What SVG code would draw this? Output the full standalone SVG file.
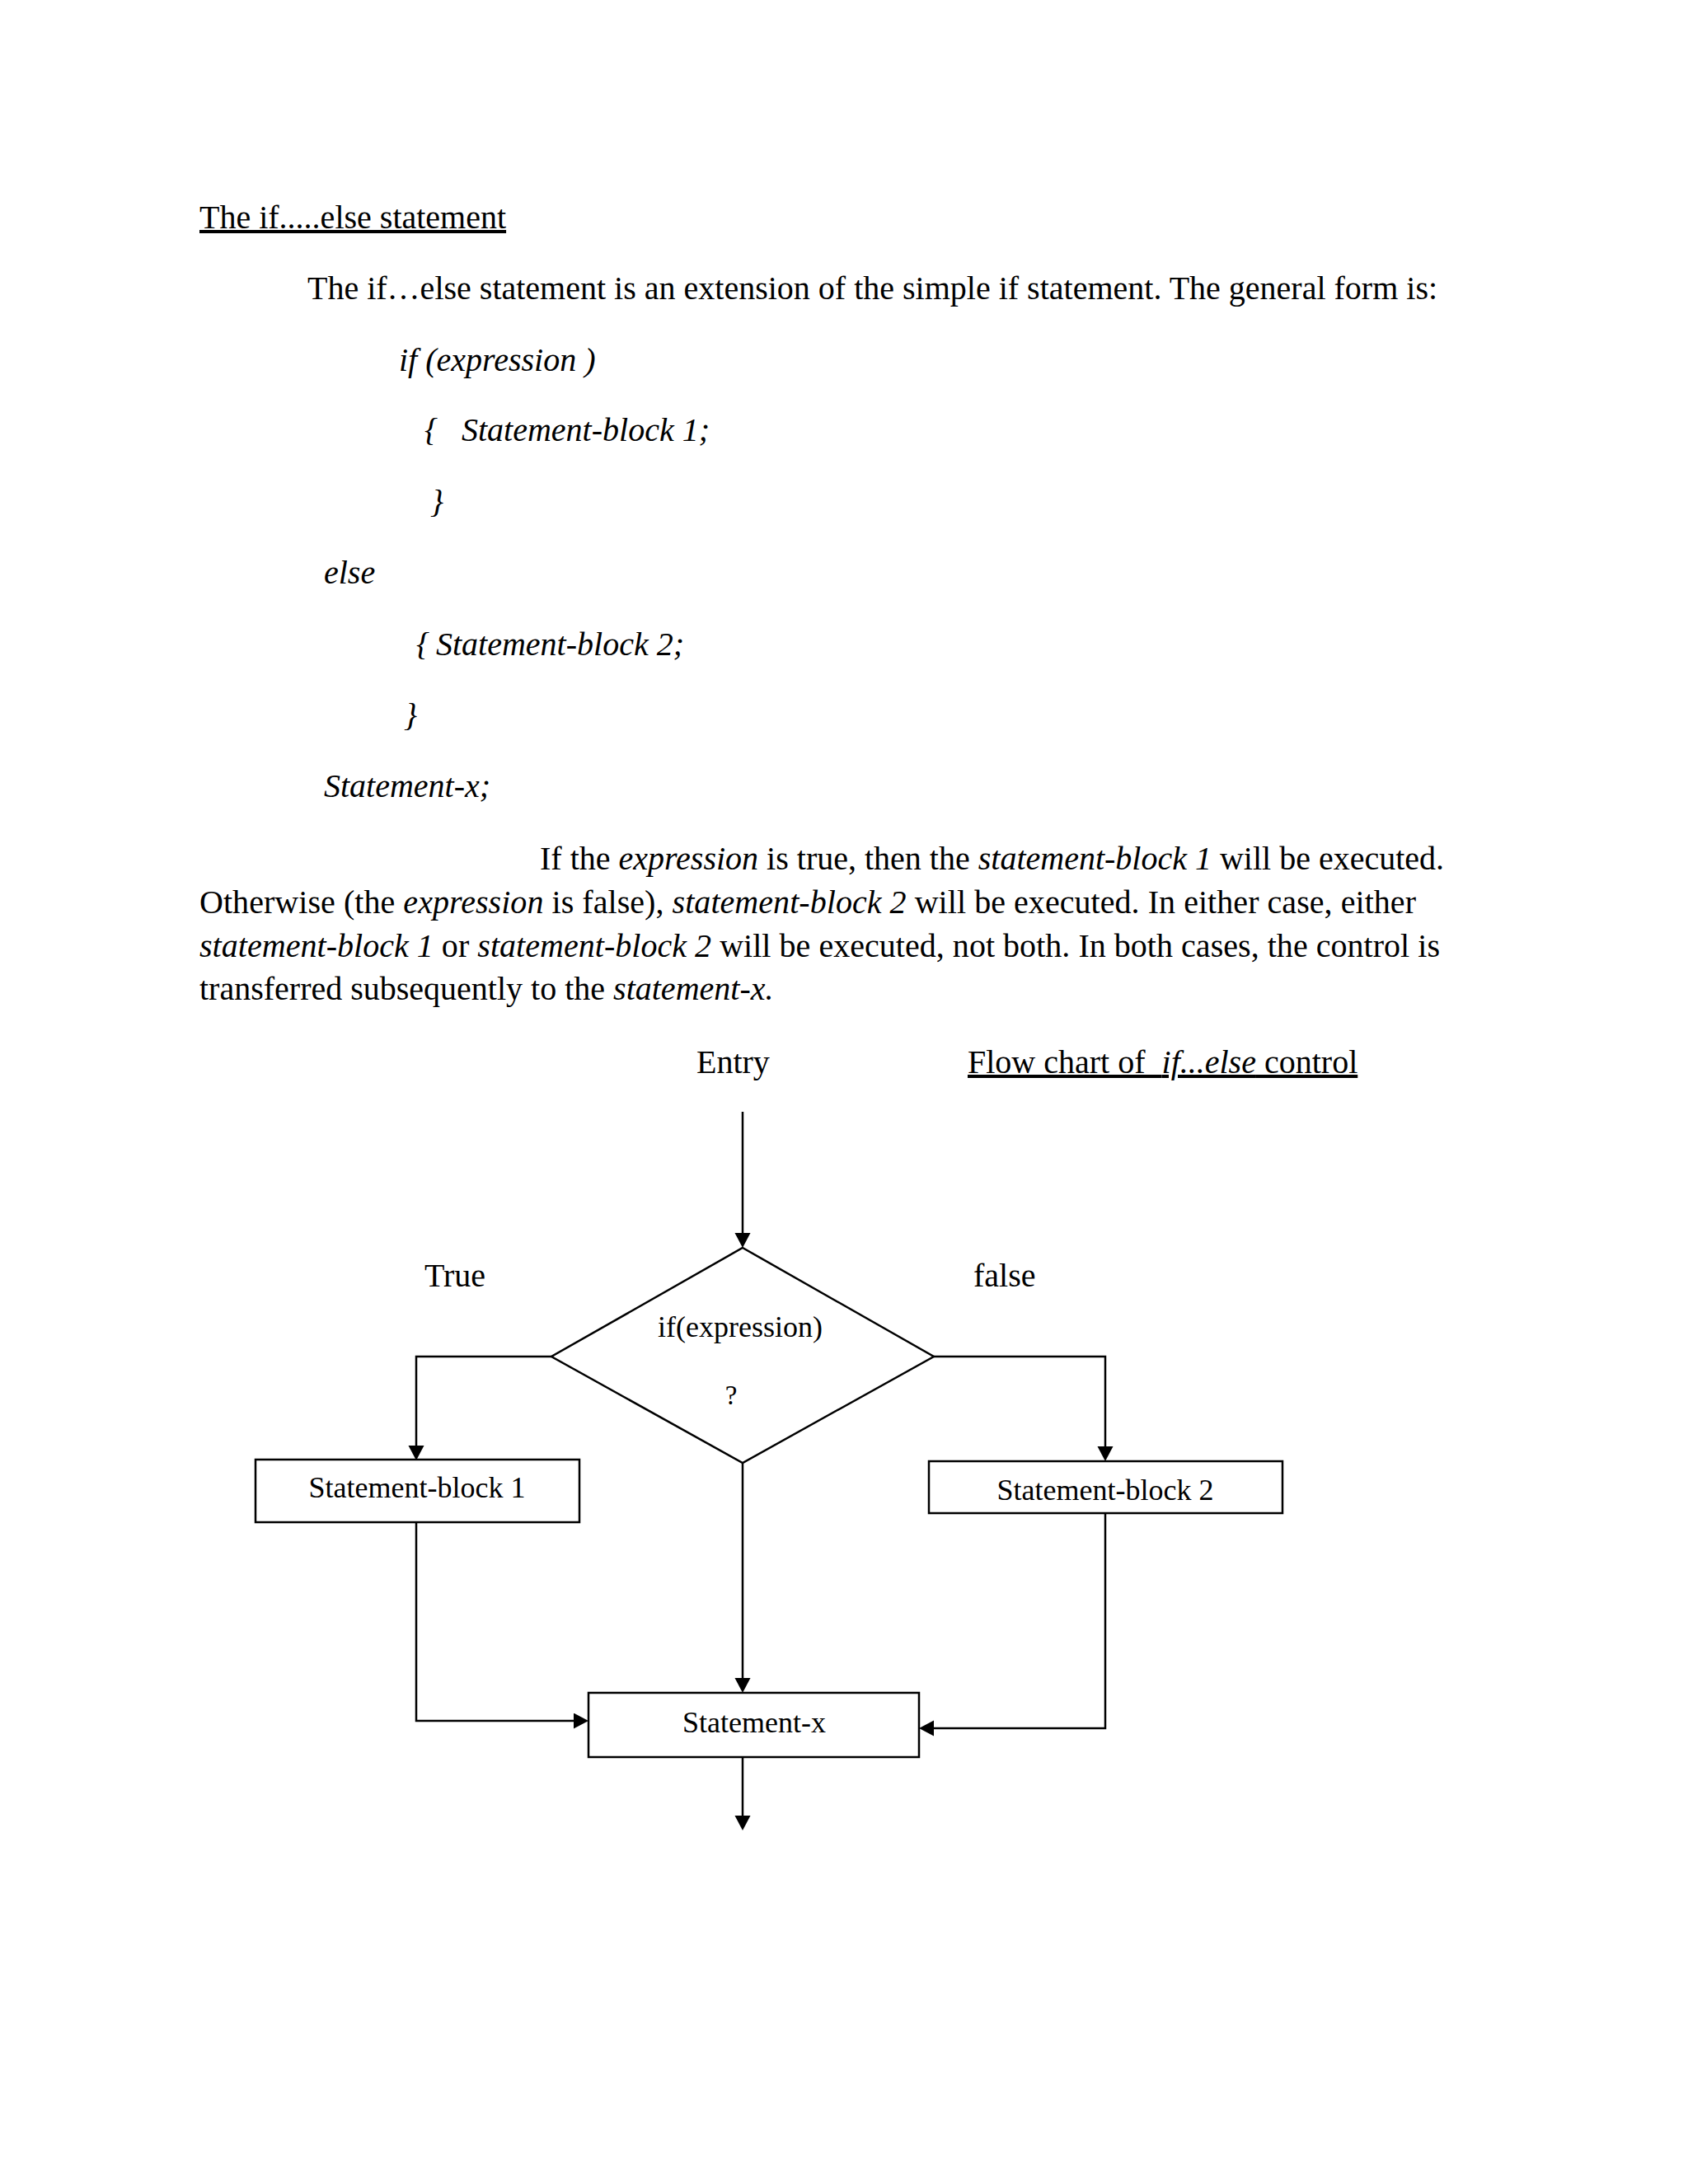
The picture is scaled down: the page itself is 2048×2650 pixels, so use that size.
<svg xmlns="http://www.w3.org/2000/svg" width="2048" height="2650" viewBox="0 0 2048 2650">
<style>
  text { font-family: "Liberation Serif", "Times New Roman", serif; fill: #000; }
  .body { font-size: 40px; }
  .it { font-style: italic; }
  .node { font-size: 36px; }
  .shape { fill: #fff; stroke: #000; stroke-width: 2.5; }
  .conn { fill: none; stroke: #000; stroke-width: 2.5; }
</style>
<defs>
  <marker id="arrow" markerUnits="userSpaceOnUse" markerWidth="20" markerHeight="20" refX="8" refY="9.5" orient="auto">
    <path d="M0,0 L18,9.5 L0,19 z" fill="#000"/>
  </marker>
</defs>
<rect x="0" y="0" width="2048" height="2650" fill="#fff"/>

<g id="text-block">
  <text class="body" x="242" y="277" text-decoration="underline">The if.....else statement</text>
  <text class="body" x="373" y="363">The if…else statement is an extension of the simple if statement. The general form is:</text>

  <text class="body it" x="484" y="450">if (expression )</text>
  <text class="body it" y="535"><tspan x="515">{</tspan><tspan x="560">Statement-block 1;</tspan></text>
  <text class="body it" x="522" y="622">}</text>
  <text class="body it" x="393" y="708">else</text>
  <text class="body it" y="795"><tspan x="505">{</tspan><tspan x="529">Statement-block 2;</tspan></text>
  <text class="body it" x="490" y="881">}</text>
  <text class="body it" x="393" y="967">Statement-x;</text>

  <text class="body" x="655" y="1055">If the <tspan class="it">expression</tspan> is true, then the <tspan class="it">statement-block 1</tspan> will be executed.</text>
  <text class="body" x="242" y="1108" textLength="1476" lengthAdjust="spacing">Otherwise (the <tspan class="it">expression</tspan> is false), <tspan class="it">statement-block 2</tspan> will be executed. In either case, either</text>
  <text class="body" x="242" y="1161" textLength="1505" lengthAdjust="spacing"><tspan class="it">statement-block 1</tspan> or <tspan class="it">statement-block 2</tspan> will be executed, not both. In both cases, the control is</text>
  <text class="body" x="242" y="1213">transferred subsequently to the <tspan class="it">statement-x.</tspan></text>

  <text class="body" x="845" y="1302">Entry</text>
  <text class="body" x="1174" y="1302" text-decoration="underline" xml:space="preserve">Flow chart of  <tspan class="it">if...else</tspan> control</text>
  <text class="body" x="515" y="1561">True</text>
  <text class="body" x="1181" y="1561">false</text>
</g>

<g id="connectors">
  <path class="conn" d="M901,1349 V1504" marker-end="url(#arrow)"/>
  <path class="conn" d="M669,1646 H505 V1762" marker-end="url(#arrow)"/>
  <path class="conn" d="M1133,1646 H1341 V1763" marker-end="url(#arrow)"/>
  <path class="conn" d="M901,1775 V2044" marker-end="url(#arrow)"/>
  <path class="conn" d="M505,1847 V2088 H704" marker-end="url(#arrow)"/>
  <path class="conn" d="M1341,1836 V2097 H1125" marker-end="url(#arrow)"/>
  <path class="conn" d="M901,2132 V2211" marker-end="url(#arrow)"/>
</g>

<g id="decision">
  <polygon class="shape" points="901,1514 1133,1646 901,1775 669,1646"/>
  <text class="node" x="898" y="1622" text-anchor="middle">if(expression)</text>
  <text x="887" y="1704" text-anchor="middle" font-size="33">?</text>
</g>

<g id="statement-block-1">
  <rect class="shape" x="310" y="1771" width="393" height="76"/>
  <text class="node" x="506" y="1817" text-anchor="middle">Statement-block 1</text>
</g>

<g id="statement-block-2">
  <rect class="shape" x="1127" y="1773" width="429" height="63"/>
  <text class="node" x="1341" y="1820" text-anchor="middle">Statement-block 2</text>
</g>

<g id="statement-x">
  <rect class="shape" x="714" y="2054" width="401" height="78"/>
  <text class="node" x="915" y="2102" text-anchor="middle">Statement-x</text>
</g>
</svg>
